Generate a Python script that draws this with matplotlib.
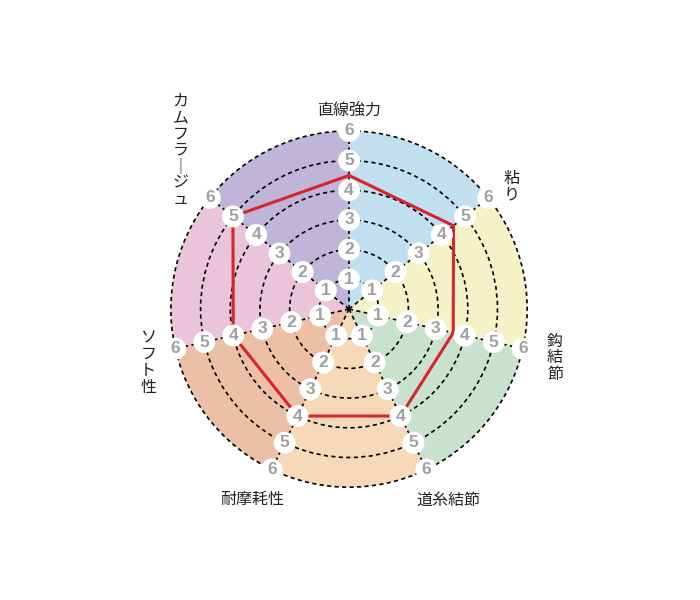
import numpy as np
import matplotlib
matplotlib.use("Agg")
import matplotlib.pyplot as plt

plt.rcParams['font.family'] = ['Noto Sans CJK JP', 'DejaVu Sans']

# categories clockwise from the top
categories = ['直線強力', '粘り', '鈎結節', '道糸結節', '耐摩耗性', 'ソフト性', 'カムフラージュ']
values = [4.5, 4.5, 3.6, 4.0, 4.0, 4.0, 5.0]
levels = [1, 2, 3, 4, 5, 6]
# sector colours: sector i lies between axis i and axis i+1
sector_colors = ['#c2dfef', '#f6f2c7', '#c9e2cf', '#f6d9b9', '#ecc0a6', '#eac5da', '#beb5d8']

n = len(categories)
step = 2 * np.pi / n
theta = np.arange(n) * step
dash = (0, (2.5, 2))

fig = plt.figure(figsize=(7, 6), dpi=100)
ax = fig.add_axes([0.2229, 0.1633, 0.5514, 0.6433], projection='polar')
ax.set_theta_offset(np.pi / 2)
ax.set_theta_direction(-1)
ax.set_ylim(0, 6.5)

# coloured sectors
ax.bar(theta + step / 2, max(levels), width=step, bottom=0,
       color=sector_colors, edgecolor='none', align='center', zorder=1)

# dashed rings + spokes (spokes stop at the outer ring)
ax.set_yticks(levels)
ax.set_xticks(theta)
ax.set_yticklabels([])
ax.set_xticklabels([])
ax.yaxis.grid(True, color='black', linestyle=dash, linewidth=1.2)
ax.xaxis.grid(False)
ax.vlines(theta, 0, max(levels), colors='black', linestyles=dash,
          linewidth=1.2, zorder=2)
ax.spines['polar'].set_visible(False)
ax.tick_params(length=0)

# red data polygon
ax.plot(np.append(theta, theta[0]), values + values[:1],
        color='#d8242b', linewidth=2.2, zorder=3)

# number badges on each axis
for t in theta:
    for lv in levels:
        ax.text(t, lv, str(lv), ha='center', va='center', fontsize=12.5,
                fontweight='bold', color='#a0a0a0', family='Liberation Sans',
                zorder=4,
                bbox=dict(boxstyle='circle,pad=0.2', fc='white', ec='none'))

# category labels (angle offset in degrees, radius, vertical?)
label_pos = [(0.0, 6.65, False), (1.6, 6.85, True), (0.5, 7.13, True),
             (-1.7, 7.24, False), (1.3, 7.2, False), (-2.1, 7.0, True),
             (4.7, 7.8, True)]
for cat, t, (dt, r, vert) in zip(categories, theta, label_pos):
    txt = cat
    if vert:
        txt = '\n'.join(cat.replace('ー', '｜'))
    ax.text(t + np.deg2rad(dt), r, txt, ha='center', va='center',
            fontsize=11.5, color='#222222', linespacing=0.95,
            clip_on=False, zorder=5)

plt.savefig('out.png', dpi=100)
